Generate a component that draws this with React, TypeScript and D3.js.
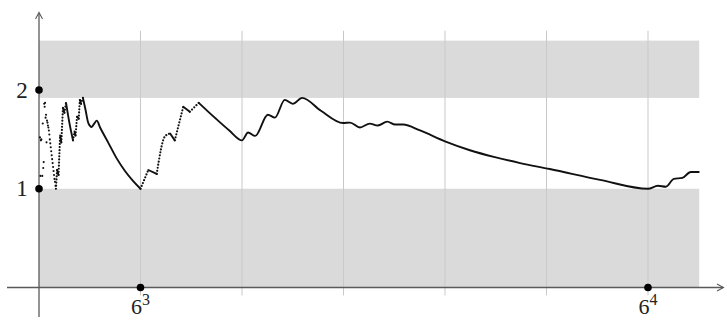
import React from 'react';
import * as d3 from 'd3';

const W = 727;
const H = 320;

// x positions of the labelled powers of 6 and their exponents
const powerTicks = [216, 1296];
const powerExps = ['3', '4'];
// vertical reference lines every 6^3
const gridN = [216, 432, 648, 864, 1080, 1296];
// labelled y values
const yTicks = [1, 2];
// shaded bands [from, to]
const lowerBand = [0, 1];
const upperBand = [1.92, 2.5];
const bandEndN = 1405;

// isolated values for small n
const earlyN = [2, 3, 4, 5, 7, 8, 9, 10, 11, 12, 13, 14, 15, 16, 17, 18, 19, 20, 21, 22, 23, 24, 25, 26, 27, 28, 29, 30, 31, 32, 33, 34, 35];
const earlyV = [1.52, 1.13, 1.49, 1.5, 1.13, 1.66, 1.21, 1.27, 1.86, 1.83, 1.87, 1.72, 1.75, 1.47, 1.69, 1.67, 1.64, 1.62, 1.59, 1.55, 1.5, 1.46, 1.42, 1.38, 1.34, 1.3, 1.26, 1.22, 1.18, 1.14, 1.1, 1.07, 1.03];

// main trace from n = 36 on
const traceN = [36, 38.5, 41.5, 45, 47.5, 51, 54, 57.5, 65, 72.4, 75.5, 77.7, 81, 84.5, 87, 89.5, 93.5, 99, 105, 112, 117.5, 123, 130, 147, 165, 183, 200, 216,
  232.6, 250.5, 268, 279, 289, 307, 321, 340, 374, 405, 432, 445, 460, 487, 502, 523, 540, 560, 600, 647, 662, 683, 704, 721, 741, 758, 775,
  811, 864, 917, 970, 1024, 1087, 1194, 1296, 1317, 1334, 1351, 1369, 1387, 1404];
const traceV = [1.0, 1.19, 1.14, 1.54, 1.47, 1.82, 1.77, 1.87, 1.66, 1.49, 1.58, 1.54, 1.73, 1.71, 1.9, 1.86, 1.92, 1.8, 1.665, 1.626, 1.66, 1.69, 1.62, 1.47, 1.31, 1.18, 1.08, 1.0,
  1.19, 1.15, 1.53, 1.56, 1.49, 1.83, 1.78, 1.87, 1.72, 1.59, 1.49, 1.57, 1.535, 1.75, 1.72, 1.9, 1.86, 1.92, 1.79, 1.666, 1.67, 1.62, 1.66, 1.64, 1.68, 1.65, 1.65,
  1.59, 1.48, 1.39, 1.32, 1.26, 1.2, 1.09, 1.0, 1.03, 1.02, 1.1, 1.11, 1.17, 1.17];
// 1 = the step arriving at this point is a run of isolated dots
const traceDotted = [0, 1, 0, 1, 0, 1, 0, 1, 0, 0, 1, 0, 1, 0, 1, 0, 1, 0, 0, 0, 0, 0, 0, 0, 0, 0, 0, 0,
  1, 0, 1, 1, 0, 1, 0, 1, 0, 0, 0, 0, 0, 0, 0, 0, 0, 0, 0, 0, 0, 0, 0, 0, 0, 0, 0,
  0, 0, 0, 0, 0, 0, 0, 0, 0, 0, 0, 0, 0, 0];

const x = d3.scaleLinear().domain([0, 1296]).range([39, 648]);
const y = d3.scaleLinear().domain([0, 2]).range([287.5, 90]);

const line = d3
  .line<[number, number]>()
  .x((d) => x(d[0]))
  .y((d) => y(d[1]))
  .curve(d3.curveMonotoneX);

type Run = { dotted: boolean; pts: [number, number][] };

function buildRuns(): Run[] {
  const runs: Run[] = [];
  for (let i = 1; i < traceN.length; i++) {
    const dotted = traceDotted[i] === 1;
    const last = runs[runs.length - 1];
    if (last && last.dotted === dotted) {
      last.pts.push([traceN[i], traceV[i]]);
    } else {
      runs.push({ dotted, pts: [[traceN[i - 1], traceV[i - 1]], [traceN[i], traceV[i]]] });
    }
  }
  return runs;
}

const AXIS = '#5a5a5a';
const BAND = '#dadada';
const GRID = '#c9c9c9';
const INK = '#111';
const FONT = '"Liberation Serif", "DejaVu Serif", serif';

export default function App() {
  const runs = buildRuns();
  const x0 = x(0);
  const y0 = y(0);
  const xEnd = x(bandEndN);
  return (
    <svg
      width={W}
      height={H}
      viewBox={`0 0 ${W} ${H}`}
      style={{ position: 'absolute', left: 0, top: 0, background: '#fff' }}
    >
      {/* bands */}
      <rect x={x0} y={y(lowerBand[1])} width={xEnd - x0} height={y(lowerBand[0]) - y(lowerBand[1])} fill={BAND} />
      <rect x={x0} y={y(upperBand[1])} width={xEnd - x0} height={y(upperBand[0]) - y(upperBand[1])} fill={BAND} />

      {/* grid */}
      {gridN.map((n) => (
        <line key={n} x1={x(n)} x2={x(n)} y1={y(2.6)} y2={y(-0.08)} stroke={GRID} strokeWidth={1} />
      ))}

      {/* axes */}
      <line x1={7} x2={723} y1={y0} y2={y0} stroke={AXIS} strokeWidth={1.3} />
      <path d={`M717,${y0 - 3.5} L723.5,${y0} L717,${y0 + 3.5}`} fill="none" stroke={AXIS} strokeWidth={1.1} />
      <line x1={x0} x2={x0} y1={317} y2={13} stroke={AXIS} strokeWidth={1.3} />
      <path d={`M${x0 - 3.5},19 L${x0},12.5 L${x0 + 3.5},19`} fill="none" stroke={AXIS} strokeWidth={1.1} />

      {/* isolated early values */}
      {earlyN.map((n, i) => (
        <circle key={n} cx={x(n)} cy={y(earlyV[i])} r={1.05} fill={INK} />
      ))}

      {/* trace */}
      {runs.map((r, i) => (
        <path
          key={i}
          d={line(r.pts) || ''}
          fill="none"
          stroke={INK}
          strokeWidth={r.dotted ? 2.2 : 1.9}
          strokeLinecap="round"
          strokeLinejoin="round"
          strokeDasharray={r.dotted ? '0 3.1' : undefined}
        />
      ))}

      {/* axis markers */}
      {yTicks.map((v) => (
        <g key={v}>
          <circle cx={x0} cy={y(v)} r={3.8} fill="#000" />
          <text x={22} y={y(v) + 7.5} textAnchor="middle" fontFamily={FONT} fontSize={23} fill="#222">
            {v}
          </text>
        </g>
      ))}
      {powerTicks.map((n, i) => (
        <g key={n}>
          <circle cx={x(n)} cy={y0} r={3.8} fill="#000" />
          <text x={x(n)} y={314} textAnchor="middle" fontFamily={FONT} fontSize={22} fill="#222">
            6
            <tspan dy={-9} fontSize={16}>
              {powerExps[i]}
            </tspan>
          </text>
        </g>
      ))}
    </svg>
  );
}
